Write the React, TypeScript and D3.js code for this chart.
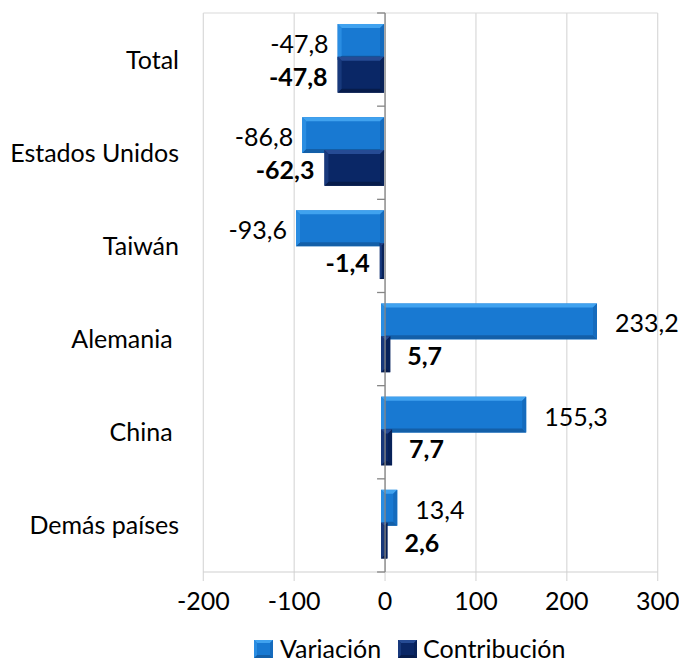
import React from "react";
import * as d3 from "d3";

const categories = ["Total", "Estados Unidos", "Taiwán", "Alemania ", "China ", "Demás países"];
const variacion = [-47.8, -86.8, -93.6, 233.2, 155.3, 13.4];
const contribucion = [-47.8, -62.3, -1.4, 5.7, 7.7, 2.6];
const xTicks = [-200, -100, 0, 100, 200, 300];
const seriesNames = ["Variación", "Contribución"];

const W = 679;
const H = 663;
const FONT = "Lato, 'Open Sans', sans-serif";
const FS = 25;

const fmt = (v: number) => v.toFixed(1).replace(".", ",");

type Pal = { main: string; top: string; bottom: string; left: string; right: string };
const palV: Pal = { main: "#1879d2", top: "#40a2ef", bottom: "#135fa8", left: "#2a8de2", right: "#156bbd" };
const palC: Pal = { main: "#0a2766", top: "#264b94", bottom: "#071c4b", left: "#18397c", right: "#082259" };

function Bevel({ x, y, w, h, pal, b = 4 }: { x: number; y: number; w: number; h: number; pal: Pal; b?: number }) {
  const bb = Math.max(0, Math.min(b, w / 2, h / 2));
  const x1 = x + w;
  const y1 = y + h;
  return (
    <g>
      <rect x={x} y={y} width={w} height={h} fill={pal.main} />
      <polygon points={`${x},${y} ${x1},${y} ${x1 - bb},${y + bb} ${x + bb},${y + bb}`} fill={pal.top} />
      <polygon points={`${x},${y1} ${x1},${y1} ${x1 - bb},${y1 - bb} ${x + bb},${y1 - bb}`} fill={pal.bottom} />
      <polygon points={`${x},${y} ${x + bb},${y + bb} ${x + bb},${y1 - bb} ${x},${y1}`} fill={pal.left} />
      <polygon points={`${x1},${y} ${x1 - bb},${y + bb} ${x1 - bb},${y1 - bb} ${x1},${y1}`} fill={pal.right} />
    </g>
  );
}

export default function App() {
  const x = d3.scaleLinear().domain([-200, 300]).range([203.3, 657.7]);
  const y = d3.scaleBand<string>().domain(categories).range([13, 572]).paddingInner(0).paddingOuter(0);
  const bw = y.bandwidth();
  const barH = bw * 0.385;
  const offV = bw * 0.118;
  const offC = offV + barH * 0.915;
  const plotTop = 13;
  const plotBottom = 572;
  const x0 = x(0);

  const barRect = (v: number) => {
    const a = x(Math.min(0, v)) - 4;
    const bEnd = v < 0 ? x0 - 1 : x(v);
    return { left: a, w: Math.max(1.5, bEnd - a) };
  };

  const boundaries = [...categories.map((c) => y(c) as number), plotBottom];

  return (
    <svg width={W} height={H} style={{ position: "absolute", left: 0, top: 0, background: "#fff" }}>
      {xTicks.map((t) => (
        <line key={"g" + t} x1={x(t)} x2={x(t)} y1={plotTop} y2={plotBottom + 9} stroke="#d9d9d9" strokeWidth={1.2} />
      ))}
      <line x1={x(-200)} x2={x(300)} y1={plotTop} y2={plotTop} stroke="#d9d9d9" strokeWidth={1.2} />
      <line x1={x(-200)} x2={x(300)} y1={plotBottom} y2={plotBottom} stroke="#d0d0d0" strokeWidth={1.2} />

      {categories.map((c, i) => {
        const top = y(c) as number;
        const rv = barRect(variacion[i]);
        const rc = barRect(contribucion[i]);
        return (
          <g key={"b" + i}>
            <Bevel x={rv.left} y={top + offV} w={rv.w} h={barH} pal={palV} />
            <Bevel x={rc.left} y={top + offC} w={rc.w} h={barH} pal={palC} />
          </g>
        );
      })}

      <line x1={x0} x2={x0} y1={plotTop} y2={plotBottom} stroke="#868686" strokeWidth={1.3} />
      {boundaries.map((b, i) => (
        <line key={"t" + i} x1={x0 - 8} x2={x0} y1={b} y2={b} stroke="#868686" strokeWidth={1.3} />
      ))}

      {categories.map((c, i) => {
        const top = y(c) as number;
        const cyV = top + offV + barH / 2 + 2;
        const cyC = top + offC + barH / 2 + 2;
        const v = variacion[i];
        const k = contribucion[i];
        return (
          <g key={"l" + i} fontFamily={FONT} fontSize={FS} fill="#000">
            <text x={v < 0 ? x(v) - 13 : x(v) + 18} y={cyV} dy="0.36em" textAnchor={v < 0 ? "end" : "start"}>
              {fmt(v)}
            </text>
            <text
              x={k < 0 ? x(k) - 14 : x(k) + 17}
              y={cyC}
              dy="0.36em"
              fontWeight="bold"
              textAnchor={k < 0 ? "end" : "start"}
            >
              {fmt(k)}
            </text>
          </g>
        );
      })}

      {categories.map((c) => (
        <text
          key={"c" + c}
          x={179}
          y={(y(c) as number) + bw / 2}
          dy="0.36em"
          textAnchor="end"
          fontFamily={FONT}
          fontSize={FS}
          fill="#000"
          style={{ whiteSpace: "pre" }}
        >
          {c}
        </text>
      ))}

      {xTicks.map((t) => (
        <text key={"x" + t} x={x(t)} y={600.5} dy="0.36em" textAnchor="middle" fontFamily={FONT} fontSize={FS} fill="#000">
          {String(t)}
        </text>
      ))}

      <g fontFamily={FONT} fontSize={FS} fill="#000">
        <Bevel x={254} y={640} w={19} h={18} pal={palV} b={3} />
        <text x={280} y={649} dy="0.36em">{seriesNames[0]}</text>
        <Bevel x={398} y={640} w={19} h={18} pal={palC} b={3} />
        <text x={423} y={649} dy="0.36em">{seriesNames[1]}</text>
      </g>
    </svg>
  );
}
